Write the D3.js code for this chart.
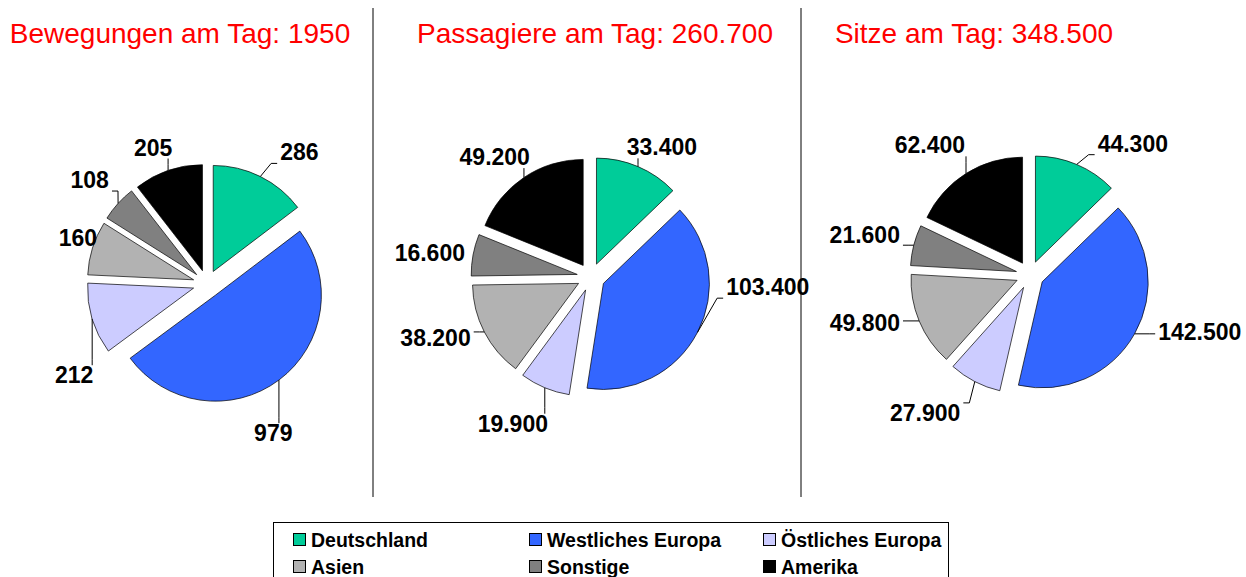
<!DOCTYPE html>
<html><head><meta charset="utf-8">
<script src="https://cdn.jsdelivr.net/npm/d3@7"></script>
<style>
html,body{margin:0;padding:0;background:#fff;}
svg{display:block;font-family:"Liberation Sans",Arial,sans-serif;}
</style></head>
<body>
<svg id="chart" width="1246" height="577"></svg>
<script>
// ---------- DATA ----------
const categories = ["Deutschland","Westliches Europa","Östliches Europa","Asien","Sonstige","Amerika"];
const bewegungen = [286, 979, 212, 160, 108, 205];
const passagiere = [33400, 103400, 19900, 38200, 16600, 49200];
const sitze = [44300, 142500, 27900, 49800, 21600, 62400];
const titles = ["Bewegungen am Tag: 1950", "Passagiere am Tag: 260.700", "Sitze am Tag: 348.500"];

// ---------- LAYOUT / STYLE ----------
const colors = ["#00CC99", "#3366FF", "#CCCCFF", "#B2B2B2", "#808080", "#000000"];
const panels = [
  {values: bewegungen, cx: 207, cy: 284, titleX: 180,
   labelPolar: [[35,161],[156,163],[235.6,161],[289.6,137],[311.6,157],[338.5,147]]},
  {values: passagiere, cx: 591, cy: 277, titleX: 595,
   labelPolar: [[28.6,148],[93.2,177],[208.1,166],[248.6,167],[278.5,163],[321.3,154]]},
  {values: sitze, cx: 1030, cy: 275, titleX: 974,
   labelPolar: [[38,167],[108.5,179],[217.3,173],[253.8,172],[283.6,170],[322.4,164]]}
];
const R = 106, explode = 14;

const de = d3.formatLocale({decimal: ",", thousands: ".", grouping: [3], currency: ["", "€"]});
const fmt = de.format(",");

const svg = d3.select("#chart");
const rad = d => d * Math.PI / 180;

// separators
[373, 801].forEach(x => svg.append("line").attr("x1", x).attr("x2", x).attr("y1", 8).attr("y2", 497)
  .attr("stroke", "#000").attr("stroke-width", 1));

const pie = d3.pie().sort(null).value(d => d);
const arc = d3.arc().innerRadius(0).outerRadius(R);

panels.forEach((p, pi) => {
  svg.append("text").attr("x", p.titleX).attr("y", 43).attr("text-anchor", "middle")
    .attr("font-size", 28).attr("fill", "#FF0000").text(titles[pi]);

  const g = svg.append("g").attr("transform", `translate(${p.cx},${p.cy})`);
  const arcs = pie(p.values);
  arcs.forEach((a, i) => {
    const mid = (a.startAngle + a.endAngle) / 2;
    const ox = explode * Math.sin(mid), oy = -explode * Math.cos(mid);
    g.append("path").attr("d", arc(a)).attr("transform", `translate(${ox},${oy})`)
      .attr("fill", colors[i]).attr("stroke", "#000").attr("stroke-width", 0.7);
  });

  // labels + leaders
  arcs.forEach((a, i) => {
    const mid = (a.startAngle + a.endAngle) / 2;
    const [ang, dist] = p.labelPolar[i];
    const lx = dist * Math.sin(rad(ang)), ly = -dist * Math.cos(rad(ang));
    const t = g.append("text").attr("x", lx).attr("y", ly).attr("dy", "0.36em")
      .attr("text-anchor", "middle").attr("font-size", 23).attr("font-weight", "bold")
      .attr("fill", "#000").text(fmt(p.values[i]));
    const bb = t.node().getBBox();
    const pad = 3;
    const x0 = bb.x - pad, x1 = bb.x + bb.width + pad, y0 = bb.y + 3, y1 = bb.y + bb.height - 2;
    const sx = (R + explode) * Math.sin(mid), sy = -(R + explode) * Math.cos(mid);
    const ex = Math.max(x0, Math.min(x1, sx)), ey = Math.max(y0, Math.min(y1, sy));
    const dd = Math.hypot(ex - sx, ey - sy);
    if (dd < 8) return;
    let elx = ex, ely = ey;
    if (ex === x0) elx = ex - 6; else if (ex === x1) elx = ex + 6;
    else if (ey === y0) ely = ey - 6; else if (ey === y1) ely = ey + 6;
    g.append("path").attr("d", `M${sx},${sy}L${elx},${ely}L${ex},${ey}`)
      .attr("fill", "none").attr("stroke", "#000").attr("stroke-width", 1);
  });
});

// legend
const leg = svg.append("g");
leg.append("rect").attr("x", 273.5).attr("y", 522.5).attr("width", 675).attr("height", 70)
  .attr("fill", "#fff").attr("stroke", "#000").attr("stroke-width", 1);
const colX = [293, 529, 763], rowY = [540, 567];
categories.forEach((c, i) => {
  const x = colX[i % 3], y = rowY[Math.floor(i / 3)];
  leg.append("rect").attr("x", x + 0.5).attr("y", y - 6.5).attr("width", 12).attr("height", 12)
    .attr("fill", colors[i]).attr("stroke", "#000").attr("stroke-width", 1);
  leg.append("text").attr("x", x + 18).attr("y", y).attr("dy", "0.36em")
    .attr("font-size", 19.5).attr("font-weight", "bold").attr("fill", "#000").text(c);
});
</script>
</body></html>
